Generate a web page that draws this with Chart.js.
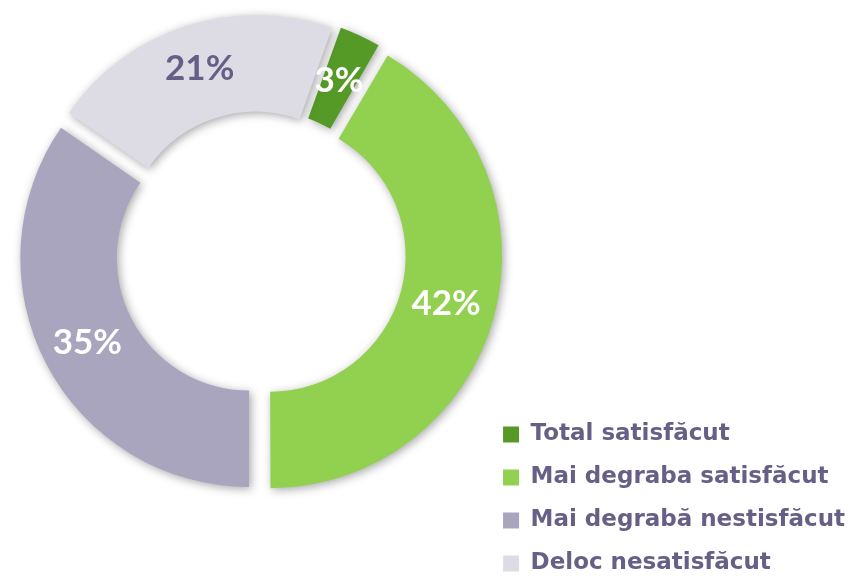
<!DOCTYPE html>
<html>
<head>
<meta charset="utf-8">
<script src="https://cdn.jsdelivr.net/npm/chart.js@4.4.1/dist/chart.umd.min.js"></script>
<style>
html,body{margin:0;padding:0;background:#fff;overflow:hidden;width:851px;height:578px;}
#wrap{position:absolute;left:0;top:-89px;width:855px;height:684px;}
</style>
</head>
<body>
<div id="wrap"><canvas id="c" width="855" height="684"></canvas></div>
<script>
const categories = ['Total satisfăcut', 'Mai degraba satisfăcut', 'Mai degrabă nestisfăcut', 'Deloc nesatisfăcut'];
const values = [3, 42, 35, 21];
const valueLabels = ['3%', '42%', '35%', '21%'];
const colors = ['#559A26', '#92D050', '#A9A5BF', '#DDDCE5'];
const labelColors = ['#FFFFFF', '#FFFFFF', '#FFFFFF', '#655F87'];
const offsets = [28, 44, 44, 44];

const shadowPlugin = {
  id: 'shadow',
  beforeDatasetsDraw(chart) {
    const ctx = chart.ctx;
    ctx.save();
    ctx.shadowColor = 'rgba(0,0,0,0.35)';
    ctx.shadowBlur = 10;
    ctx.shadowOffsetX = 2;
    ctx.shadowOffsetY = 2;
  },
  afterDatasetsDraw(chart) {
    chart.ctx.restore();
  }
};

const labelPlugin = {
  id: 'sliceLabels',
  afterDatasetsDraw(chart) {
    const ctx = chart.ctx;
    const meta = chart.getDatasetMeta(0);
    ctx.save();
    ctx.font = 'bold 35px Lato';
    ctx.textAlign = 'center';
    ctx.textBaseline = 'middle';
    meta.data.forEach((arc, i) => {
      const p = arc.getProps(['x', 'y', 'startAngle', 'endAngle', 'innerRadius', 'outerRadius']);
      const mid = (p.startAngle + p.endAngle) / 2;
      const r = (p.innerRadius + p.outerRadius) / 2 + offsets[i] / 4 + 4;
      ctx.fillStyle = labelColors[i];
      ctx.fillText(valueLabels[i], p.x + Math.cos(mid) * r, p.y + Math.sin(mid) * r);
    });
    ctx.restore();
  }
};

function build() {
  new Chart(document.getElementById('c'), {
    type: 'doughnut',
    data: {
      labels: categories,
      datasets: [{
        data: values,
        backgroundColor: colors,
        borderWidth: 0,
        offset: offsets
      }]
    },
    options: {
      responsive: false,
      animation: false,
      rotation: 19.6,
      radius: 227,
      cutout: '57.5%',
      layout: { padding: { left: 35, right: 0, top: 0, bottom: 0 } },
      plugins: {
        tooltip: { enabled: false },
        legend: {
          position: 'right',
          align: 'end',
          labels: {
            color: '#675F85',
            font: { family: 'DejaVu Sans', size: 23, weight: 'bold' },
            boxWidth: 16,
            boxHeight: 16,
            padding: 20
          }
        }
      }
    },
    plugins: [shadowPlugin, labelPlugin]
  });
}

Promise.all([
  document.fonts.load('bold 35px Lato'),
  document.fonts.load('bold 23px "DejaVu Sans"')
]).then(build, build);
</script>
</body>
</html>
